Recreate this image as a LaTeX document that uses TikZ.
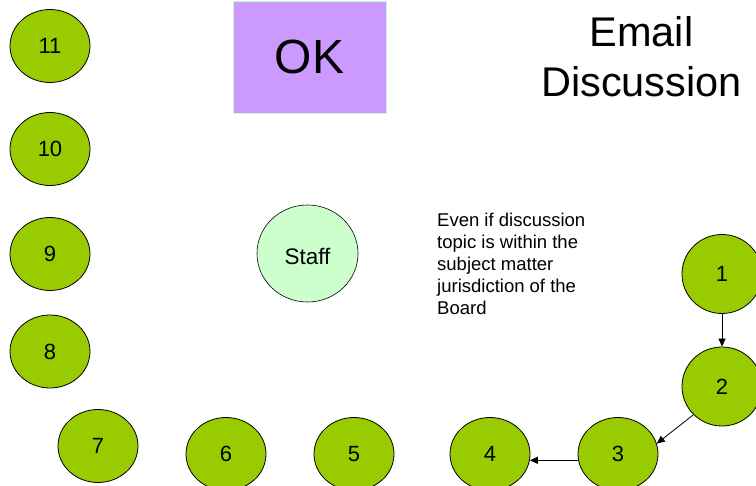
\documentclass[tikz,border=0pt]{standalone}
\usepackage{fontspec}
\setmainfont{Liberation Sans}
\usetikzlibrary{shapes.geometric,arrows.meta}
\definecolor{leafgreen}{HTML}{99CC00}
\definecolor{mint}{HTML}{CCFFCC}
\definecolor{lilac}{HTML}{CC99FF}
\definecolor{paleedge}{HTML}{CCF2E6}
\begin{document}
\begin{tikzpicture}[x=1pt,y=-1pt,
  member/.style={ellipse,draw=black,line width=0.8pt,fill=leafgreen,
    minimum width=80pt,minimum height=73pt,inner sep=0pt,
    font=\fontsize{22}{26}\selectfont},
  tallmember/.style={member,minimum height=79pt},
  flow/.style={-{Triangle[length=8pt,width=7pt]},line width=0.8pt}]
\useasboundingbox (0,0) rectangle (756,486);
\clip (0,0) rectangle (756,486);

% left column of members
\node[member] (m11) at (50,46) {11};
\node[member] (m10) at (50,149) {10};
\node[member] (m9)  at (50,254) {9};
\node[member] (m8)  at (50,351.5) {8};

% bottom row of members
\node[member] (m7) at (98,446) {7};
\node[member] (m6) at (226,454) {6};
\node[member] (m5) at (354,454) {5};
\node[member] (m4) at (490,454) {4};
\node[member] (m3) at (618,454) {3};

% right column of members
\node[tallmember] (m1) at (722,274) {1};
\node[tallmember] (m2) at (722,386.5) {2};

% staff
\node[ellipse,draw=black,line width=0.6pt,fill=mint,minimum width=101pt,
  minimum height=97pt,inner sep=0pt] (staff) at (307.5,253.5) {};
\node[font=\fontsize{22.5}{26}\selectfont,inner sep=0pt] (stafflabel)
  at ([yshift=-3pt]staff.center) {Staff};

% status box
\node[rectangle,draw=paleedge,line width=0.8pt,fill=lilac,minimum width=153pt,
  minimum height=112pt,inner sep=0pt,font=\fontsize{48}{56}\selectfont]
  (ok) at (309.5,57) {OK};

% title
\node[anchor=north,align=center,inner sep=0pt,font=\fontsize{41.5}{50}\selectfont]
  (title) at (641.5,16.5) {Email\\Discussion};

% note
\node[anchor=north west,align=left,inner sep=0pt,font=\fontsize{18.5}{22}\selectfont]
  (note) at (437,213) {Even if discussion\\topic is within the\\subject matter\\jurisdiction of the\\Board};

% message chain
\draw[flow] (m1.south) -- (m2.north);
\draw[flow] (m2.south west) -- (m3.15);
\draw[flow] (m3.189) -- (m4.-9);
\end{tikzpicture}
\end{document}
